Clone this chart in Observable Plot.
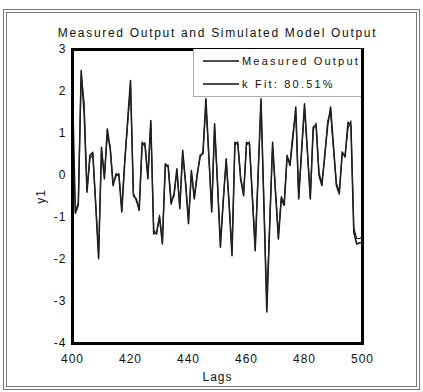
<!DOCTYPE html>
<html><head><meta charset="utf-8">
<script src="https://cdn.jsdelivr.net/npm/d3@7"></script>
<script src="https://cdn.jsdelivr.net/npm/@observablehq/plot@0.6"></script>
<style>
body{margin:0;background:#fff;}
#wrap{position:relative;width:423px;height:392px;overflow:hidden;background:#fff;}
#border{position:absolute;left:3px;top:9px;width:409px;height:373px;border:4px double #777;}
#chart{position:absolute;left:0;top:0;}
#chart svg text{letter-spacing:1px;}
#chart svg .ttl text{letter-spacing:1.7px;}
#legend{position:absolute;left:193px;top:49px;width:167px;height:47px;border:1px solid #aaa;border-top:none;border-right:none;background:#fff;
 font-family:"Liberation Sans",sans-serif;font-size:11px;letter-spacing:2.2px;color:#111;white-space:nowrap;}
.row{position:absolute;left:0;height:16px;display:flex;align-items:center;}
.row svg{margin-left:9px;margin-right:3px;}
</style></head>
<body>
<div id="wrap"><div id="border"></div><div id="chart"></div><div id="legend"></div></div>
<script>
const titleText = "Measured Output and Simulated Model Output";
const seriesNames = ["Measured Output", "k Fit: 80.51%"];
const firstLag = 400;
const xTicks = [400, 420, 440, 460, 480, 500];
const yTicks = [-4, -3, -2, -1, 0, 1, 2, 3];
const measured = [
 2.0, -0.9, -0.7, 2.5, 1.5, -0.4, 0.48, 0.55, -0.7, -1.98,
 0.67, -0.08, 1.11, 0.63, -0.24, 0.04, 0.0, -0.87, 0.3, 1.3,
 2.26, -0.48, -0.56, -0.83, 0.79, 0.71, -0.08, 1.31, -1.39, -1.35,
 -0.99, -1.63, 0.28, 0.2, -0.68, -0.44, 0.16, -0.79, 0.6, -0.2,
 -1.15, 0.12, -0.56, 0.0, 0.48, 0.52, 1.83, 0.5, -0.87, 1.23,
 -0.2, -1.71, -0.6, 0.4, -0.7, -1.91, 0.79, 0.75, -0.1, -0.48,
 0.79, 0.75, -0.5, -1.79, 0.0, 1.83, -0.7, -3.25, -1.2, 0.79,
 -0.4, -1.51, -0.56, -0.71, 0.48, 0.24, 0.9, 1.63, -0.56, 0.6,
 1.71, 0.6, -0.56, 1.15, 1.19, 0.0, -0.24, 0.5, 1.19, 1.63,
 0.7, -0.24, -0.44, 0.56, 0.44, 1.27, 1.19, -1.35, -1.63, -1.6,
 -1.6
];
const simulated = [
 1.0, -0.85, -0.65, 2.4, 1.75, -0.35, 0.4, 0.5, -0.65, -1.85,
 0.6, 0.0, 0.95, 0.7, -0.2, -0.02, 0.05, -0.8, 0.35, 1.2,
 2.15, -0.42, -0.6, -0.78, 0.7, 0.78, -0.02, 1.25, -1.3, -1.4,
 -0.95, -1.55, 0.2, 0.25, -0.6, -0.5, 0.1, -0.72, 0.52, -0.15,
 -1.05, 0.05, -0.5, 0.05, 0.42, 0.58, 1.7, 0.45, -0.8, 1.15,
 -0.15, -1.6, -0.55, 0.35, -0.62, -1.8, 0.72, 0.8, -0.05, -0.42,
 0.72, 0.8, -0.45, -1.7, 0.05, 1.7, -0.62, -3.05, -1.1, 0.7,
 -0.35, -1.42, -0.5, -0.65, 0.42, 0.3, 1.0, 1.5, -0.5, 0.55,
 1.6, 0.55, -0.5, 1.08, 1.25, 0.08, -0.18, 0.45, 1.3, 1.5,
 0.62, -0.18, -0.38, 0.5, 0.5, 1.12, 1.3, -1.25, -1.5, -1.5,
 -1.45
];
const font = '"Liberation Sans",sans-serif';
const toRows = (arr) => arr.map((v, i) => ({lag: firstLag + i, y: v}));

const chart = Plot.plot({
  width: 423, height: 392,
  marginLeft: 72, marginRight: 61, marginTop: 49, marginBottom: 49,
  style: {fontFamily: font, fontSize: "12px", background: "transparent", color: "#111"},
  x: {domain: [400, 500], ticks: xTicks, tickSize: 0, tickPadding: 11, tickFormat: d => String(d),
      label: "Lags", labelAnchor: "center", labelOffset: 37, labelArrow: "none"},
  y: {domain: [-4, 3], ticks: yTicks, tickSize: 0, tickPadding: 6, tickFormat: d => String(d),
      label: "y1", labelAnchor: "center", labelOffset: 36, labelArrow: "none"},
  marks: [
    Plot.line(toRows(measured), {x: "lag", y: "y", stroke: "#111", strokeWidth: 1.5}),
    Plot.line(toRows(simulated), {x: "lag", y: "y", stroke: "#222", strokeWidth: 1.2}),
    Plot.frame({stroke: "#000", strokeWidth: 3}),
    Plot.text([titleText], {frameAnchor: "top", dy: -21, fontSize: 12, fill: "#111", className: "ttl"})
  ]
});
document.getElementById("chart").appendChild(chart);

const legend = document.getElementById("legend");
seriesNames.forEach((name, i) => {
  const row = document.createElement("div");
  row.className = "row";
  row.style.top = (4 + i * 23) + "px";
  row.innerHTML = `<svg width="36" height="4"><line x1="0" x2="36" y1="2" y2="2" stroke="#111" stroke-width="1.6"/></svg><span>${name}</span>`;
  legend.appendChild(row);
});
</script>
</body></html>
